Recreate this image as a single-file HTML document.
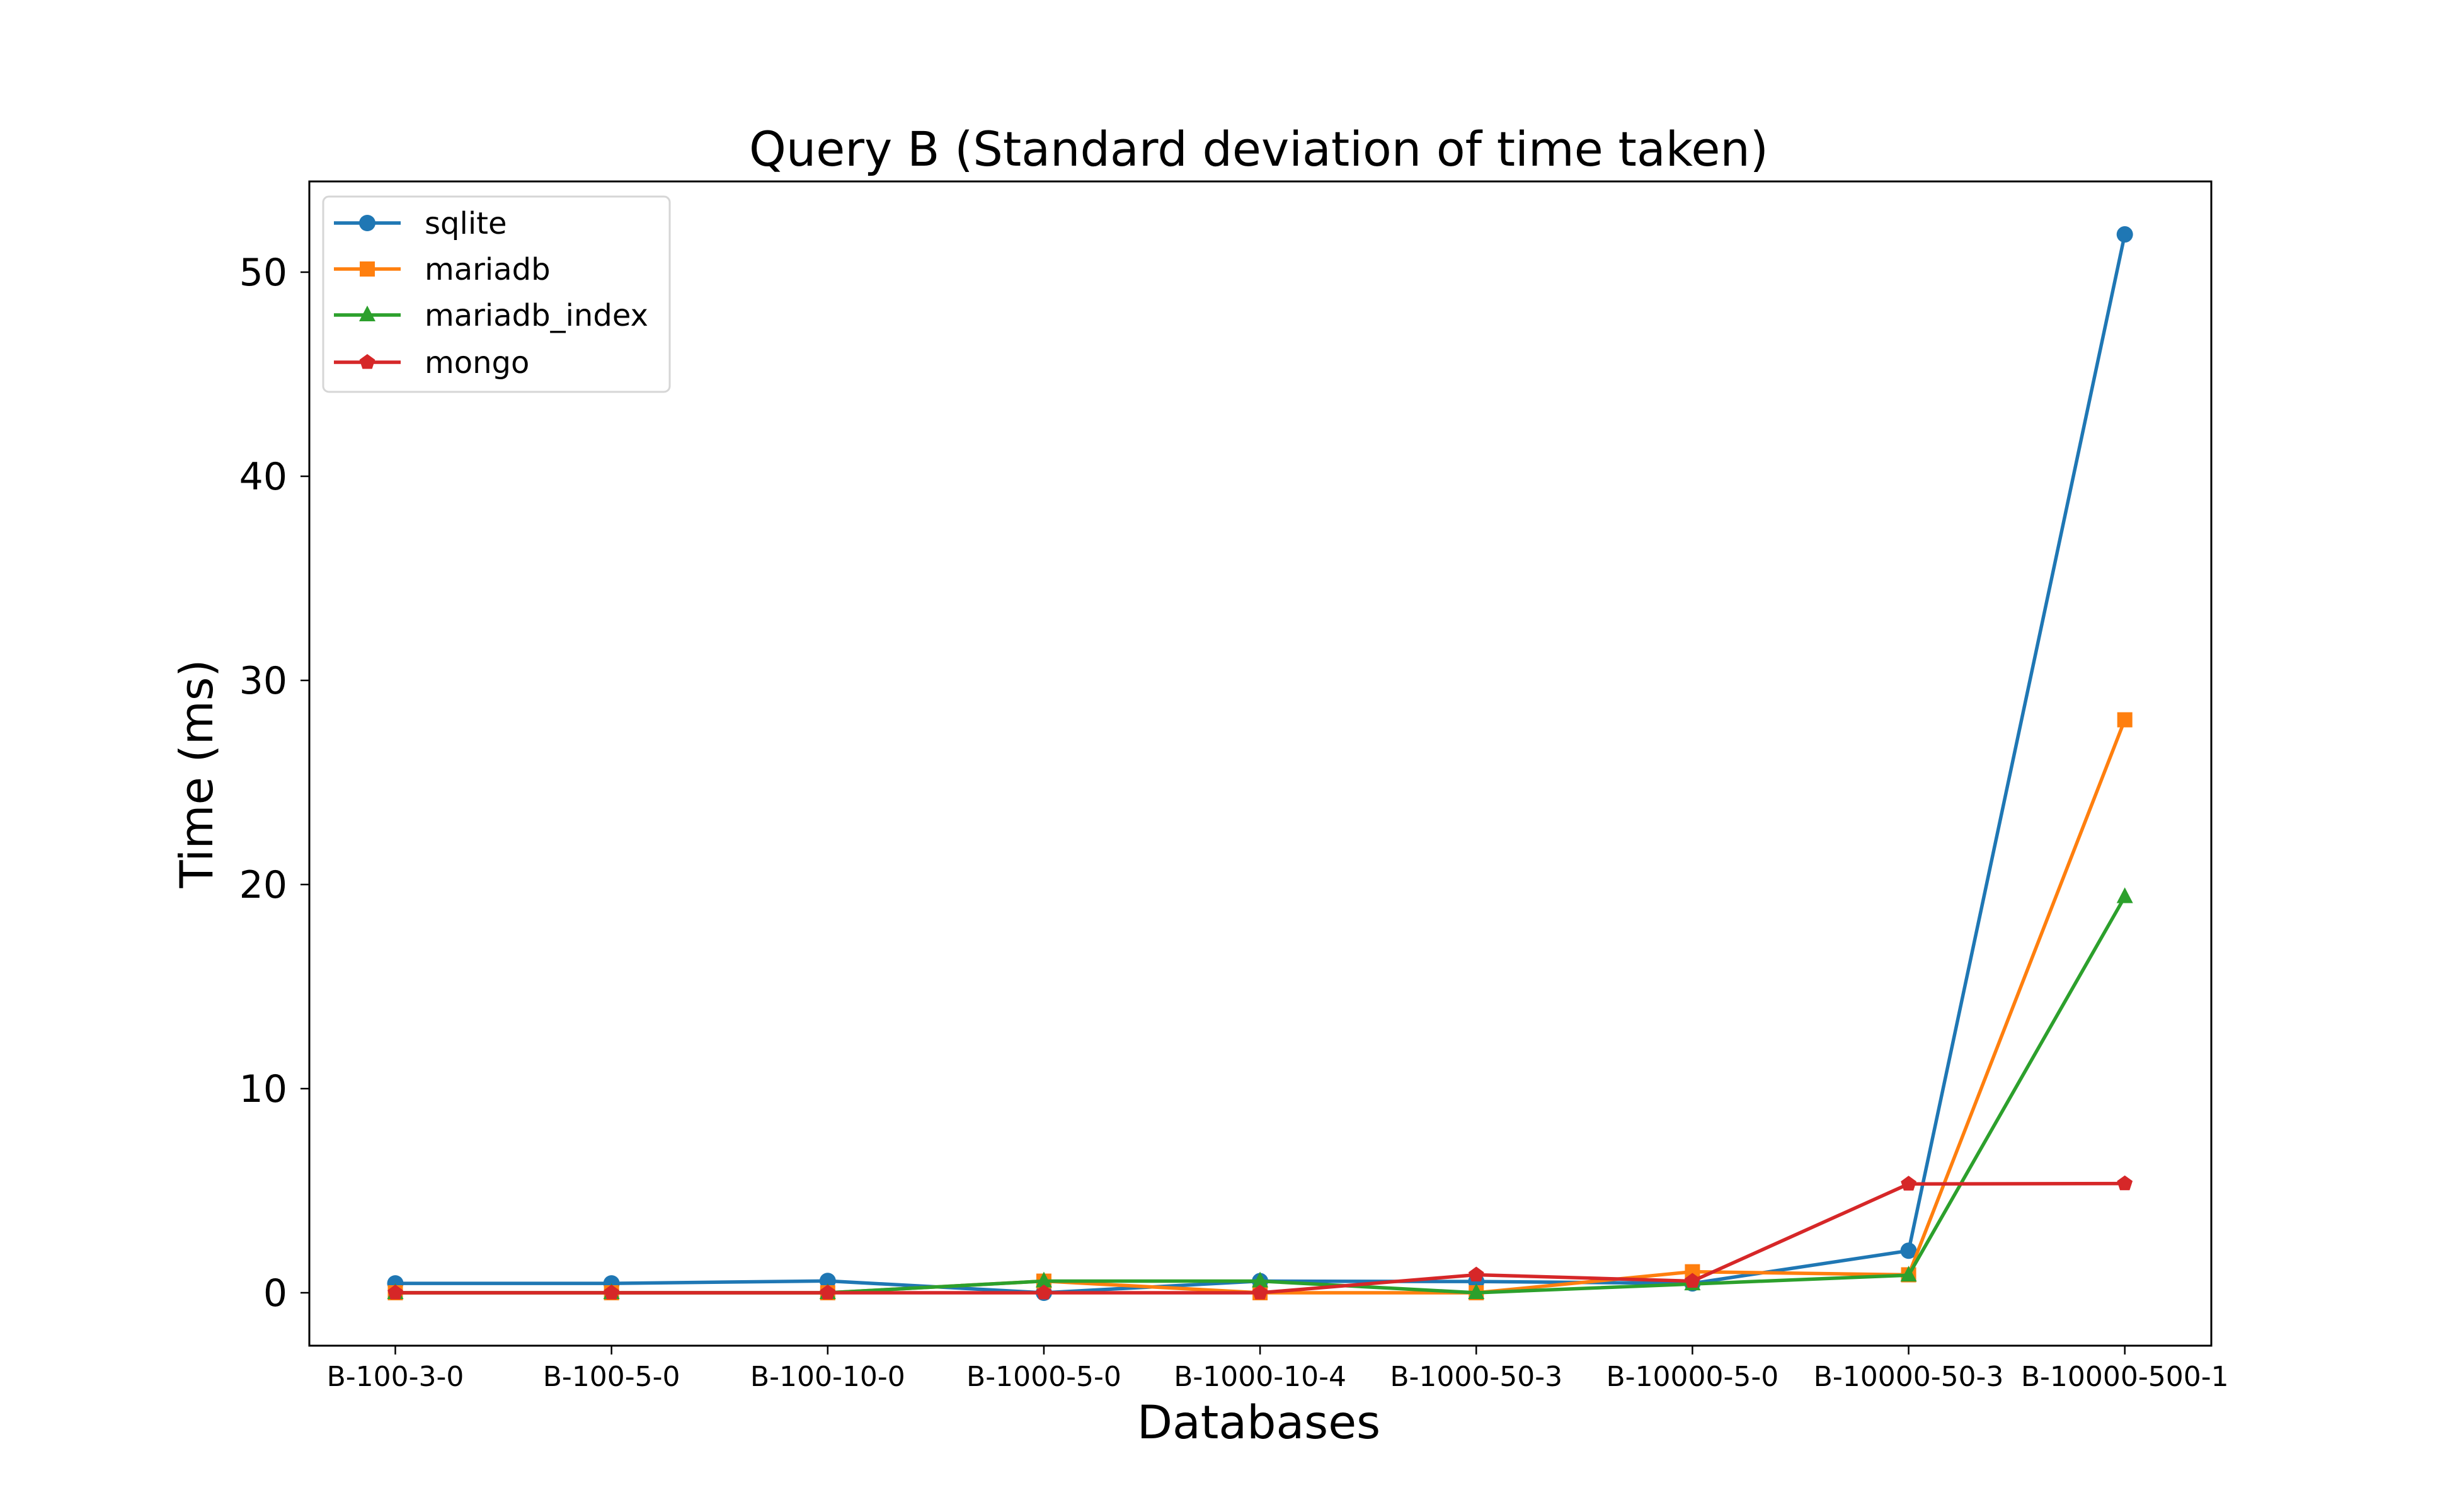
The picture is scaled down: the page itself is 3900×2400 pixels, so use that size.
<!DOCTYPE html>
<html><head><meta charset="utf-8"><style>html,body{margin:0;padding:0;background:#fff}svg{display:block}text{font-family:"DejaVu Sans","Liberation Sans",sans-serif;fill:#000}</style></head>
<body>
<svg id="chart" xmlns="http://www.w3.org/2000/svg" width="3900" height="2400" viewBox="0 0 3900 2400">
<rect width="3900" height="2400" fill="#fff"/>
<text x="1998" y="263" font-size="76" text-anchor="middle" textLength="1618" lengthAdjust="spacingAndGlyphs">Query B (Standard deviation of time taken)</text>
<g id="plot"></g>
<rect x="491" y="288" width="3019" height="1848" fill="none" stroke="#000" stroke-width="3"/>
<text x="1998" y="2283" font-size="73" text-anchor="middle">Databases</text>
<text x="0" y="0" font-size="72" text-anchor="middle" transform="translate(337,1228) rotate(-90)">Time (ms)</text>
<g id="legend"></g>
</svg>
<script>
const categories = ["B-100-3-0","B-100-5-0","B-100-10-0","B-1000-5-0","B-1000-10-4","B-1000-50-3","B-10000-5-0","B-10000-50-3","B-10000-500-1"];
const seriesNames = ["sqlite","mariadb","mariadb_index","mongo"];
const sqliteValues = [0.46,0.46,0.58,0.0,0.57,0.55,0.46,2.06,51.85];
const mariadbValues = [0,0,0,0.57,0,0,1.03,0.88,28.07];
const mariadbIndexValues = [0,0,0,0.57,0.57,0,0.43,0.86,19.4];
const mongoValues = [0,0,0,0,0,0.88,0.57,5.33,5.35];
const yTicks = [0,10,20,30,40,50];

const NS = "http://www.w3.org/2000/svg";
const colors = ["#1f77b4","#ff7f0e","#2ca02c","#d62728"];
const markers = ["circle","square","triangle","pentagon"];
const allSeries = [sqliteValues, mariadbValues, mariadbIndexValues, mongoValues];
function xScale(i){ return 627.5 + i * 343.15; }
function yScale(v){ return 2052 - v * 32.4; }
function mk(tag, attrs, parent){ const e=document.createElementNS(NS,tag); for(const k in attrs) e.setAttribute(k,attrs[k]); parent.appendChild(e); return e; }
function marker(type, x, y, color, parent){
  const r=13; let e;
  if(type==="circle") e=mk("circle",{cx:x,cy:y,r:r,fill:color},parent);
  else if(type==="square") e=mk("rect",{x:x-r+1,y:y-r+1,width:2*r-2,height:2*r-2,fill:color},parent);
  else if(type==="triangle") e=mk("polygon",{points:`${x},${y-r-2} ${x+r},${y+r-3} ${x-r},${y+r-3}`,fill:color},parent);
  else { const pts=[]; for(let k=0;k<5;k++){const a=-Math.PI/2+k*2*Math.PI/5; pts.push((x+r*Math.cos(a)).toFixed(1)+","+(y+r*Math.sin(a)).toFixed(1));} e=mk("polygon",{points:pts.join(" "),fill:color},parent); }
  return e;
}
const plot=document.getElementById("plot");
yTicks.forEach(t=>{
  const y=yScale(t);
  const tk=mk("line",{x1:477,x2:491,y1:y,y2:y,stroke:"#000","stroke-width":2.5},plot);
  
  
  const tx=mk("text",{x:456,y:y+21,"font-size":60,"text-anchor":"end"},plot);
  tx.textContent=t;
  
  
});
categories.forEach((c,i)=>{
  const x=xScale(i);
  const tk=mk("line",{x1:x,x2:x,y1:2136,y2:2150,stroke:"#000","stroke-width":2.5},plot);
  
  
  const tx=mk("text",{x:x,y:2200,"font-size":44,"text-anchor":"middle"},plot);
  tx.textContent=c;
  
  
});
allSeries.forEach((vals,s)=>{
  const g=mk("g",{},plot);
  
  
  const pts=vals.map((v,i)=>xScale(i)+","+yScale(v)).join(" ");
  const pl=mk("polyline",{points:pts,fill:"none",stroke:colors[s],"stroke-width":5.5,"stroke-linejoin":"round"},g);
  
  
  vals.forEach((v,i)=>{
    const m=marker(markers[s],xScale(i),yScale(v),colors[s],g);
    
    
  });
});
const lg=document.getElementById("legend");
const box=mk("rect",{x:513,y:312,width:550,height:310,rx:9,fill:"#fff","fill-opacity":0.8,stroke:"#d6d6d6","stroke-width":3},lg);


const ly=[354,427,500,575];
seriesNames.forEach((n,s)=>{
  const g=mk("g",{},lg);
  
  
  mk("line",{x1:530,x2:636,y1:ly[s],y2:ly[s],stroke:colors[s],"stroke-width":5.5},g);
  marker(markers[s],583,ly[s],colors[s],g);
  const t=mk("text",{x:674,y:ly[s]+17,"font-size":48},g);
  t.textContent=n;
});
</script>
</body></html>
